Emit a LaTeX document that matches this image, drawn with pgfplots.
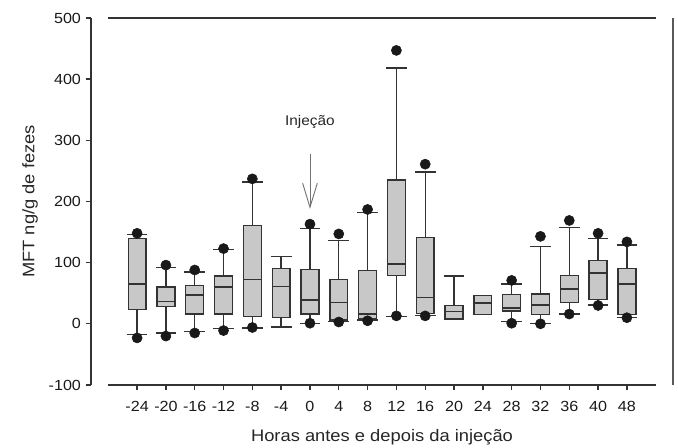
\documentclass[border=0pt]{standalone}
\usepackage{fontspec}
\setmainfont{Liberation Sans}[FakeStretch=1.1]
\usepackage{pgfplots}
\pgfplotsset{compat=1.18}
\usepgfplotslibrary{statistics}
\usetikzlibrary{arrows.meta,calc}

\definecolor{boxgray}{HTML}{C8C8C8}
\definecolor{lc}{HTML}{333333}

\begin{document}
\begin{tikzpicture}
\begin{axis}[
    name=ax,
    scale only axis,
    width=436.5pt, height=275.25pt,
    xmin=-1.6, xmax=18.6,
    ymin=-100, ymax=500,
    axis lines=left,
    axis line style={draw=none},
    clip=false,
    tick align=outside,
    major tick length=4pt,
    tick style={lc, line width=1pt},
    xtick={0,...,17},
    xticklabels={-24,-20,-16,-12,-8,-4,0,4,8,12,16,20,24,28,32,36,40,48},
    ytick={-100,0,100,200,300,400,500},
    yticklabels={-100,0,100,200,300,400,500},
    xticklabel style={font=\fontsize{11}{13}\selectfont, text=black!90, yshift=-5pt},
    yticklabel style={font=\fontsize{11}{13}\selectfont, text=black!90},
    xlabel={Horas antes e depois da injeção},
    ylabel={MFT ng/g de fezes},
    every axis x label/.style={at={(axis description cs:0.5,-0.1417)}, anchor=center,
        font=\fontsize{12.5}{14}\selectfont, text=black!85},
    every axis y label/.style={at={(axis description cs:-0.1048,0.5)}, rotate=90, anchor=center,
        font=\fontsize{12.5}{14}\selectfont, text=black!85},
    boxplot/draw direction=y,
    boxplot/box extend=0.62,
    boxplot/whisker extend=0.72,
    boxplot/every box/.style={fill=boxgray, draw=lc, line width=1pt},
    boxplot/every whisker/.style={draw=lc, line width=1pt},
    boxplot/every median/.style={draw=lc, line width=1pt},
]

% frame, SigmaPlot style with gaps at the corners
\draw[lc, line width=1pt] (axis cs:-1.6,-100) -- (axis cs:-1.6,500);
\draw[lc, line width=1pt] (axis cs:-1,-100) -- (axis cs:18,-100);
\draw[lc, line width=1pt] (axis cs:-1,500) -- (axis cs:18,500);
\draw[black!65, line width=1pt] (axis cs:18.6,-100) -- (axis cs:18.6,500);

% boxes: lower whisker, Q1, median, Q3, upper whisker
\addplot[lc, boxplot prepared={draw position=0, lower whisker=-17, lower quartile=23, median=65, upper quartile=140, upper whisker=146}] coordinates {};
\addplot[lc, boxplot prepared={draw position=1, lower whisker=-15, lower quartile=28, median=37, upper quartile=60, upper whisker=92}] coordinates {};
\addplot[lc, boxplot prepared={draw position=2, lower whisker=-13, lower quartile=16, median=47, upper quartile=63, upper whisker=85}] coordinates {};
\addplot[lc, boxplot prepared={draw position=3, lower whisker=-8, lower quartile=16, median=60, upper quartile=78, upper whisker=121}] coordinates {};
\addplot[lc, boxplot prepared={draw position=4, lower whisker=-7, lower quartile=12, median=72, upper quartile=161, upper whisker=232}] coordinates {};
\addplot[lc, boxplot prepared={draw position=5, lower whisker=-5, lower quartile=10, median=61, upper quartile=91, upper whisker=110}] coordinates {};
\addplot[lc, boxplot prepared={draw position=6, lower whisker=1, lower quartile=16, median=39, upper quartile=89, upper whisker=156}] coordinates {};
\addplot[lc, boxplot prepared={draw position=7, lower whisker=4, lower quartile=6, median=35, upper quartile=72, upper whisker=136}] coordinates {};
\addplot[lc, boxplot prepared={draw position=8, lower whisker=6, lower quartile=8, median=16, upper quartile=87, upper whisker=182}] coordinates {};
\addplot[lc, boxplot prepared={draw position=9, lower whisker=12, lower quartile=79, median=98, upper quartile=235, upper whisker=418}] coordinates {};
\addplot[lc, boxplot prepared={draw position=10, lower whisker=14, lower quartile=17, median=43, upper quartile=141, upper whisker=248}] coordinates {};
\addplot[lc, boxplot prepared={draw position=11, lower whisker=7, lower quartile=9, median=20, upper quartile=30, upper whisker=78}] coordinates {};
\addplot[lc, boxplot prepared={draw position=12, lower whisker=15, lower quartile=15, median=34, upper quartile=46, upper whisker=46, whisker extend=0}] coordinates {};
\addplot[lc, boxplot prepared={draw position=13, lower whisker=4, lower quartile=21, median=26, upper quartile=48, upper whisker=65}] coordinates {};
\addplot[lc, boxplot prepared={draw position=14, lower whisker=1, lower quartile=15, median=31, upper quartile=49, upper whisker=126}] coordinates {};
\addplot[lc, boxplot prepared={draw position=15, lower whisker=16, lower quartile=35, median=57, upper quartile=79, upper whisker=158}] coordinates {};
\addplot[lc, boxplot prepared={draw position=16, lower whisker=31, lower quartile=40, median=83, upper quartile=104, upper whisker=139}] coordinates {};
\addplot[lc, boxplot prepared={draw position=17, lower whisker=10, lower quartile=15, median=65, upper quartile=91, upper whisker=129}] coordinates {};

% 5th / 95th percentile points
\addplot[only marks, mark=*, mark size=3.8pt, mark options={fill=black!90, draw=black!90}] coordinates {
    (0,148) (0,-23) (1,96) (1,-20) (2,88) (2,-15) (3,123) (3,-11)
    (4,237) (4,-6) (6,163) (6,1) (7,147) (7,3) (8,187) (8,5)
    (9,447) (9,13) (10,261) (10,13) (13,71) (13,1) (14,143) (14,0)
    (15,169) (15,16) (16,148) (16,30) (17,134) (17,10)
};

% injection marker
\draw[black!55, line width=0.7pt, -{Straight Barb[length=18pt, width=11pt]}] (axis cs:6,277) -- (axis cs:6,188);
\node[font=\fontsize{10.5}{12}\selectfont, text=black!85] at (axis cs:6,330) {Injeção};

\end{axis}
\pgfresetboundingbox
\path ($(ax.south west)+(-68.25pt,-47.25pt)$) rectangle ($(ax.north east)+(3.75pt,13.5pt)$);
\end{tikzpicture}
\end{document}
